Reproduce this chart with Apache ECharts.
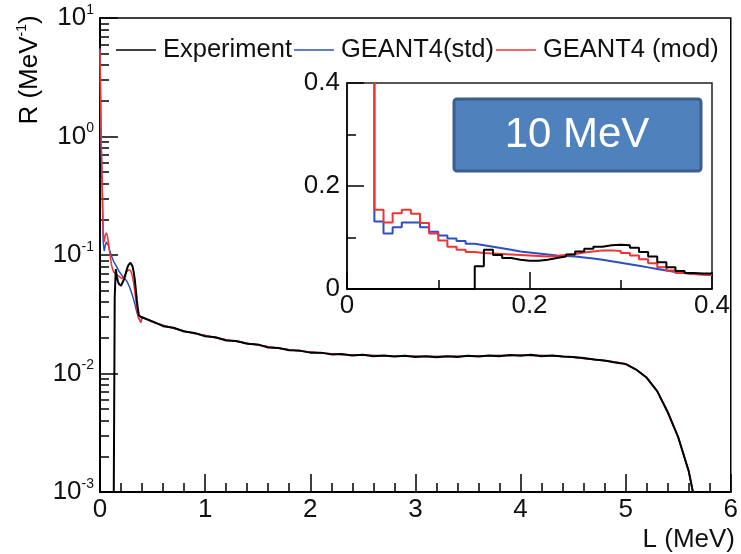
<!DOCTYPE html>
<html>
<head>
<meta charset="utf-8">
<script src="https://cdn.jsdelivr.net/npm/echarts@6/dist/echarts.min.js"></script>
<style>
html, body { margin: 0; padding: 0; background: #fff; }
#chart { width: 741px; height: 554px; }
</style>
</head>
<body>
<div id="chart"></div>
<script>
/* 10 keV bins from 0 to 0.4 MeV, values are bin contents (left edge = i * binWidth) */
var binWidth = 0.01;
var expFine = [0, 0, 0, 0, 0, 0, 0, 0, 0, 0, 0, 0, 0, 0,
    0.044, 0.076, 0.066, 0.060, 0.057, 0.055, 0.055, 0.057, 0.060, 0.063,
    0.067, 0.073, 0.078, 0.082, 0.085, 0.086, 0.085, 0.080, 0.072, 0.063,
    0.052, 0.042, 0.035, 0.031, 0.030, 0.030];
var stdFine = [5.6, 1.0, 0.42, 0.131, 0.108, 0.120, 0.129, 0.129, 0.120, 0.111,
    0.104, 0.098, 0.093, 0.088, 0.085, 0.082, 0.079, 0.076, 0.073, 0.071,
    0.069, 0.067, 0.065, 0.064, 0.063, 0.061, 0.059, 0.057, 0.054, 0.051,
    0.048, 0.045, 0.042, 0.039, 0.036, 0.033, 0.031, 0.029, 0.028, 0.027];
var modFine = [5.4, 1.0, 0.43, 0.154, 0.129, 0.147, 0.154, 0.146, 0.128, 0.108,
    0.094, 0.082, 0.076, 0.072, 0.070, 0.069, 0.068, 0.067, 0.066, 0.065,
    0.064, 0.063, 0.064, 0.066, 0.068, 0.071, 0.073, 0.075, 0.075, 0.074,
    0.070, 0.065, 0.058, 0.050, 0.042, 0.036, 0.031, 0.029, 0.028, 0.027];

/* rest of the spectrum, coarse points */
var tailL = [0.4, 0.5, 0.6, 0.7, 0.8, 0.9, 1.0, 1.1, 1.2, 1.3, 1.4, 1.5, 1.6, 1.7, 1.8, 1.9,
    2.0, 2.1, 2.2, 2.3, 2.4, 2.5, 2.6, 2.7, 2.8, 2.9, 3.0, 3.1, 3.2, 3.3, 3.4, 3.5, 3.6, 3.7,
    3.8, 3.9, 4.0, 4.1, 4.2, 4.3, 4.4, 4.5, 4.6, 4.7, 4.8, 4.9, 5.0, 5.1, 5.2, 5.3, 5.4, 5.5,
    5.6, 5.64];
var expTail = [0.0298, 0.0275, 0.0251, 0.0243, 0.0226, 0.0220, 0.0206, 0.0202, 0.0190, 0.0188,
    0.0178, 0.0176, 0.0166, 0.0164, 0.0157, 0.0156, 0.0150, 0.0150, 0.0145, 0.0146,
    0.0142, 0.0144, 0.0140, 0.0142, 0.0139, 0.0141, 0.0138, 0.0140, 0.0137, 0.0140,
    0.0138, 0.0141, 0.0139, 0.0142, 0.0140, 0.0143, 0.0141, 0.0144, 0.0140, 0.0142,
    0.0139, 0.0138, 0.0135, 0.0131, 0.0129, 0.0124, 0.0120, 0.0108, 0.0092, 0.0071,
    0.0047, 0.0029, 0.0015, 0.0010];
var simTail = [0.0300, 0.0272, 0.0255, 0.0241, 0.0228, 0.0218, 0.0209, 0.0200, 0.0193, 0.0186,
    0.0180, 0.0174, 0.0168, 0.0163, 0.0159, 0.0155, 0.0152, 0.0149, 0.0147, 0.0145,
    0.0144, 0.0143, 0.0142, 0.0141, 0.0140, 0.0140, 0.0140, 0.0139, 0.0139, 0.0139,
    0.0140, 0.0140, 0.0141, 0.0141, 0.0142, 0.0142, 0.0143, 0.0142, 0.0142, 0.0141,
    0.0139, 0.0137, 0.0134, 0.0131, 0.0128, 0.0125, 0.0121, 0.0108, 0.0093, 0.0071,
    0.0048, 0.0029, 0.0015, 0.0010];

var names = ['Experiment', 'GEANT4(std)', 'GEANT4 (mod)'];
var colors = ['#000000', '#2c4fc2', '#f03434'];
var minorLogTicks = [0.002, 0.003, 0.004, 0.005, 0.006, 0.007, 0.008, 0.009,
    0.02, 0.03, 0.04, 0.05, 0.06, 0.07, 0.08, 0.09,
    0.2, 0.3, 0.4, 0.5, 0.6, 0.7, 0.8, 0.9,
    2, 3, 4, 5, 6, 7, 8, 9];

var FONT = 'Liberation Sans';

// log plot: empty bins pushed below the axis so the line drops out of view
function mainData(fine, tail) {
    var d = fine.map(function (v, i) { return [i * binWidth, v > 0 ? v : 1e-5]; });
    tailL.forEach(function (x, i) { d.push([x, tail[i]]); });
    return d;
}
function insetData(fine) {
    var d = fine.map(function (v, i) { return [i * binWidth, v]; });
    d.push([fine.length * binWidth, fine[fine.length - 1]]);
    return d;
}

var supRich = {
    b: { fontSize: 26, fontFamily: FONT, color: '#111', lineHeight: 30 },
    s: { fontSize: 14, fontFamily: FONT, color: '#111', verticalAlign: 'top', lineHeight: 30 }
};

var lineSeries = function (idx, data, xi, yi, width, step) {
    return {
        name: names[idx],
        type: 'line',
        xAxisIndex: xi,
        yAxisIndex: yi,
        data: data,
        step: step,
        showSymbol: false,
        symbol: 'none',
        clip: true,
        animation: false,
        lineStyle: { color: colors[idx], width: width },
        itemStyle: { color: colors[idx] },
        z: idx === 0 ? 4 : 3
    };
};

var chart = echarts.init(document.getElementById('chart'));
chart.setOption({
    backgroundColor: '#fff',
    animation: false,
    legend: {
        data: names,
        left: 111,
        top: 32,
        icon: 'rect',
        itemWidth: 40,
        itemHeight: 1.6,
        itemGap: 2,
        textStyle: { fontFamily: FONT, fontSize: 25.5, color: '#111', padding: [0, 0, 0, 2] }
    },
    grid: [
        { left: 100, top: 18, width: 633, height: 474, show: true, borderColor: '#000', borderWidth: 1.5, backgroundColor: 'transparent' },
        { left: 347, top: 83, width: 365, height: 206, show: true, borderColor: '#222', borderWidth: 1.5, backgroundColor: '#fff', z: 5 }
    ],
    xAxis: [
        {
            gridIndex: 0, type: 'value', min: 0, max: 6, interval: 1,
            axisLine: { lineStyle: { color: '#000', width: 2 } },
            axisTick: { inside: true, length: 18, lineStyle: { color: '#000', width: 1.5 } },
            minorTick: { show: true, splitNumber: 5, length: 9, lineStyle: { color: '#000', width: 1.5 } },
            axisLabel: { fontFamily: FONT, fontSize: 26, color: '#111', margin: 5 },
            splitLine: { show: false }
        },
        {
            gridIndex: 1, type: 'value', min: 0, max: 0.4, interval: 0.2,
            axisLine: { lineStyle: { color: '#000', width: 1.5 } },
            axisTick: { inside: true, length: 17, lineStyle: { color: '#000', width: 1.5 } },
            minorTick: { show: true, splitNumber: 2, length: 9, lineStyle: { color: '#000', width: 1.5 } },
            axisLabel: { fontFamily: FONT, fontSize: 26, color: '#111', margin: 4 },
            splitLine: { show: false },
            z: 6
        }
    ],
    yAxis: [
        {
            gridIndex: 0, type: 'log', logBase: 10, min: 0.001, max: 10,
            axisLine: { show: true, lineStyle: { color: '#000', width: 2 } },
            axisTick: { inside: true, length: 18, lineStyle: { color: '#000', width: 1.5 } },
            axisLabel: {
                margin: 6,
                formatter: function (v) { return '{b|10}{s|' + Math.round(Math.log10(v)) + '}'; },
                rich: supRich
            },
            splitLine: { show: false }
        },
        {
            // second copy of the log axis, only to draw the 2..9 minor ticks
            gridIndex: 0, type: 'log', logBase: 10, min: 0.001, max: 10, position: 'left',
            axisLine: { show: false },
            axisTick: { inside: true, length: 9, customValues: minorLogTicks, lineStyle: { color: '#000', width: 1.5 } },
            axisLabel: { show: false },
            splitLine: { show: false }
        },
        {
            gridIndex: 1, type: 'value', min: 0, max: 0.4, interval: 0.2,
            axisLine: { show: true, lineStyle: { color: '#000', width: 1.5 } },
            axisTick: { inside: true, length: 17, lineStyle: { color: '#000', width: 1.5 } },
            minorTick: { show: true, splitNumber: 2, length: 9, lineStyle: { color: '#000', width: 1.5 } },
            axisLabel: { fontFamily: FONT, fontSize: 26, color: '#111', margin: 7 },
            splitLine: { show: false },
            z: 6
        }
    ],
    series: [
        lineSeries(1, mainData(stdFine, simTail), 0, 0, 1.5, false),
        lineSeries(2, mainData(modFine, simTail), 0, 0, 1.5, false),
        lineSeries(0, mainData(expFine, expTail), 0, 0, 2, false),
        Object.assign(lineSeries(1, insetData(stdFine), 1, 2, 2, 'end'), { z: 7 }),
        Object.assign(lineSeries(2, insetData(modFine), 1, 2, 2, 'end'), { z: 7 }),
        Object.assign(lineSeries(0, insetData(expFine), 1, 2, 2, 'end'), { z: 7 })
    ],
    graphic: [
        {
            type: 'text', x: 30, y: 70, rotation: Math.PI / 2,
            style: {
                text: '{b|R (MeV}{s|-1}{b|)}',
                rich: supRich,
                align: 'center', verticalAlign: 'middle'
            }
        },
        {
            type: 'text', right: 6, bottom: 1,
            style: { text: 'L (MeV)', fontFamily: FONT, fontSize: 26, fill: '#111' }
        },
        {
            type: 'rect', z: 20,
            shape: { x: 454, y: 99, width: 247, height: 72, r: 3 },
            style: { fill: '#4f81bd', stroke: '#3a5f8e', lineWidth: 3 }
        },
        {
            type: 'text', z: 21, x: 577, y: 135,
            style: { text: '10 MeV', fontFamily: FONT, fontSize: 42, fill: '#fff', align: 'center', verticalAlign: 'middle' }
        }
    ]
});
</script>
</body>
</html>
